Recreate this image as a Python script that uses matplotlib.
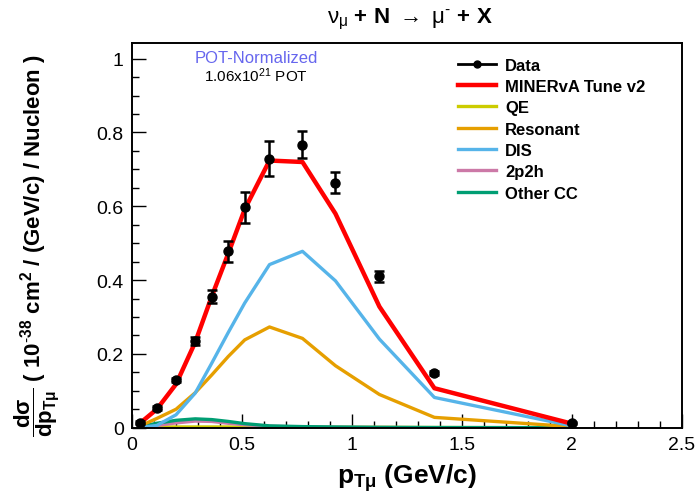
import matplotlib
matplotlib.use('Agg')
import matplotlib.pyplot as plt
from matplotlib.ticker import MultipleLocator
from matplotlib.lines import Line2D

plt.rcParams['font.family'] = ['Liberation Sans', 'DejaVu Sans']
plt.rcParams['mathtext.fontset'] = 'custom'
plt.rcParams['mathtext.rm'] = 'Liberation Sans'
plt.rcParams['mathtext.it'] = 'Liberation Sans'
plt.rcParams['mathtext.bf'] = 'Liberation Sans:bold'

# bin centres of pT (GeV/c)
pt = [0.0375, 0.1125, 0.2, 0.2875, 0.3625, 0.4375, 0.5125, 0.625, 0.775, 0.925, 1.125, 1.375, 2.0]

data = [0.013, 0.053, 0.130, 0.235, 0.355, 0.478, 0.598, 0.729, 0.767, 0.664, 0.411, 0.148, 0.013]
data_err = [0.004, 0.005, 0.006, 0.011, 0.017, 0.029, 0.042, 0.047, 0.036, 0.028, 0.015, 0.005, 0.003]

tune_v2 = [0.013, 0.050, 0.118, 0.232, 0.356, 0.472, 0.592, 0.724, 0.720, 0.580, 0.328, 0.107, 0.011]
qe = [0.001, 0.002, 0.002, 0.002, 0.002, 0.002, 0.001, 0.001, 0.001, 0.001, 0.001, 0.0005, 0.0]
resonant = [0.005, 0.025, 0.050, 0.095, 0.143, 0.193, 0.238, 0.273, 0.242, 0.168, 0.090, 0.028, 0.003]
dis = [0.001, 0.006, 0.035, 0.094, 0.175, 0.258, 0.338, 0.442, 0.478, 0.398, 0.240, 0.082, 0.005]
mec = [0.001, 0.006, 0.013, 0.018, 0.017, 0.012, 0.008, 0.004, 0.002, 0.001, 0.0005, 0.0, 0.0]
other_cc = [0.003, 0.012, 0.020, 0.024, 0.022, 0.017, 0.011, 0.005, 0.003, 0.002, 0.001, 0.0005, 0.0]

fig = plt.figure(figsize=(6.95, 5.02), dpi=100)
ax = fig.add_axes([0.19, 0.146, 0.791, 0.766])

ax.plot(pt, qe, color='#cccc00', lw=2.4, zorder=2)
ax.plot(pt, mec, color='#cc79a7', lw=2.4, zorder=2)
ax.plot(pt, other_cc, color='#009e73', lw=2.4, zorder=2)
ax.plot(pt, resonant, color='#e69f00', lw=2.4, zorder=2)
ax.plot(pt, dis, color='#56b4e9', lw=2.4, zorder=2)
ax.plot(pt, tune_v2, color='#ff0000', lw=3.2, zorder=3)
ax.errorbar(pt, data, yerr=data_err, fmt='o', color='black', ms=6.5,
            elinewidth=1.8, capsize=3.5, capthick=1.8, zorder=4)

ax.set_xlim(0, 2.5)
ax.set_ylim(0, 1.042)
ax.xaxis.set_minor_locator(MultipleLocator(0.1))
ax.yaxis.set_minor_locator(MultipleLocator(0.05))
ax.set_xticks([0, 0.5, 1, 1.5, 2, 2.5])
ax.set_xticklabels(['0', '0.5', '1', '1.5', '2', '2.5'])
ax.set_yticks([0, 0.2, 0.4, 0.6, 0.8, 1.0])
ax.set_yticklabels(['0', '0.2', '0.4', '0.6', '0.8', '1'])
ax.tick_params(which='both', direction='in', labelsize=14, width=1)
ax.tick_params(which='major', length=10, pad=6)
ax.tick_params(which='minor', length=5)
for s in ax.spines.values():
    s.set_linewidth(1.4)

ax.set_xlabel(r'$\mathbf{p_{T\mu}}$ (GeV/c)', fontsize=19, fontweight='bold', labelpad=6)
ax.set_ylabel(r'$\mathbf{\dfrac{d\sigma}{dp_{T\mu}}}$ ( 10$^{\mathbf{\text{-}38}}$ cm$^{\mathbf{2}}$ / (GeV/c) / Nucleon )',
              fontsize=16, fontweight='bold')
ax.yaxis.set_label_coords(-0.128, 0.475)

fig.text(0.59, 0.962, r'$\nu_{\mu}$ + N $\rightarrow$ $\mu^{\text{-}}$ + X', ha='center', va='center',
         fontsize=16, fontweight='bold')

ax.text(0.226, 0.962, 'POT-Normalized', transform=ax.transAxes, ha='center', va='center',
        fontsize=12, color='#6666ee')
ax.text(0.226, 0.917, r'1.06x10$^{21}$ POT', transform=ax.transAxes, ha='center', va='center',
        fontsize=11, color='black')

labels = ['Data', 'MINERvA Tune v2', 'QE', 'Resonant', 'DIS', '2p2h', 'Other CC']
colors = ['black', '#ff0000', '#cccc00', '#e69f00', '#56b4e9', '#cc79a7', '#009e73']
handles = [Line2D([], [], color='black', lw=2, marker='o', ms=5)]
handles += [Line2D([], [], color=c, lw=3.2 if i == 1 else 2.4) for i, c in enumerate(colors) if i > 0]
ax.legend(handles, labels, loc='upper left', bbox_to_anchor=(0.58, 0.98),
          frameon=False, prop={'weight': 'bold', 'size': 12}, handlelength=2.3,
          handletextpad=0.55, labelspacing=0.38, borderaxespad=0)

fig.savefig('out.png', dpi=100)
